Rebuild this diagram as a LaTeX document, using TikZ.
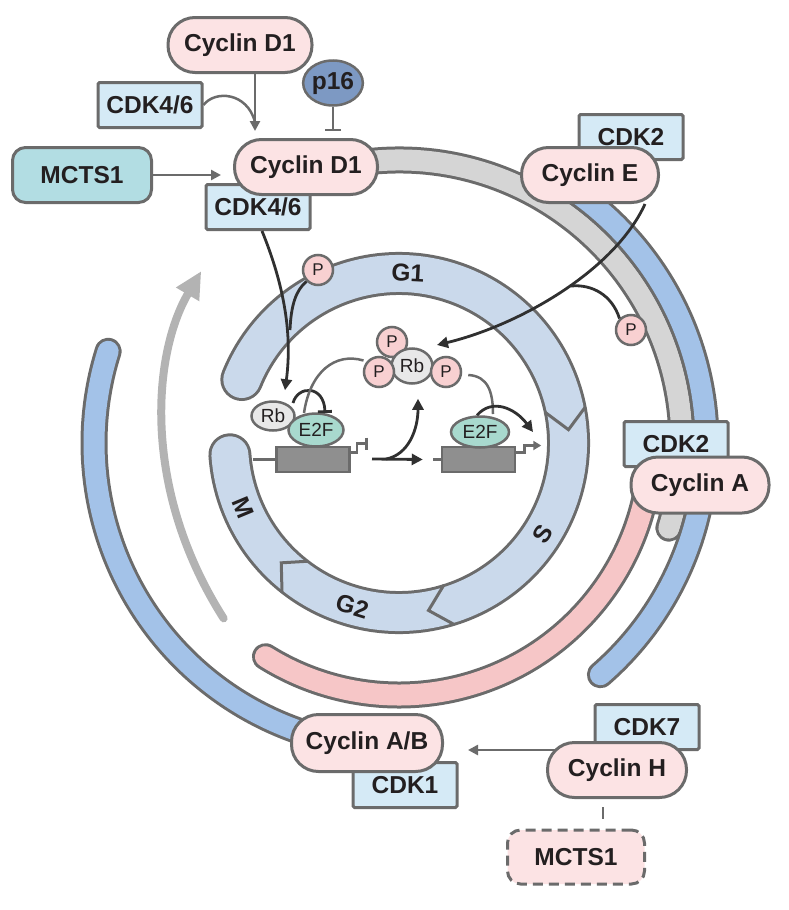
\documentclass[tikz,border=0pt]{standalone}
\usepackage{fontspec}
\setmainfont{Liberation Sans}
\usetikzlibrary{arrows.meta,shapes.geometric,calc}

\definecolor{edgegray}{HTML}{6B6B6B}
\definecolor{darkline}{HTML}{303030}
\definecolor{inktext}{HTML}{231F20}
\definecolor{cycpink}{HTML}{FCE3E4}
\definecolor{cdkblue}{HTML}{D5EAF6}
\definecolor{mctsteal}{HTML}{B2DDE3}
\definecolor{pblue}{HTML}{7D99C3}
\definecolor{ringblue}{HTML}{CAD9EB}
\definecolor{bandblue}{HTML}{A3C2E8}
\definecolor{bandgray}{HTML}{D5D5D5}
\definecolor{bandpink}{HTML}{F6C6C7}
\definecolor{phospho}{HTML}{F8D0D1}
\definecolor{rbgray}{HTML}{E8E8E8}
\definecolor{efteal}{HTML}{A8D9CE}
\definecolor{genegray}{HTML}{8F8F8F}
\definecolor{cyclegray}{HTML}{B3B3B3}

\tikzset{
  bigfont/.style={font=\fontsize{24.5}{28}\selectfont\bfseries, text=inktext},
  cyclin/.style={bigfont, draw=edgegray, fill=cycpink, line width=3pt,
    rounded corners=27pt, minimum width=143pt, minimum height=55pt},
  cdk/.style={bigfont, draw=edgegray, fill=cdkblue, line width=3pt,
    rounded corners=1.5pt, minimum width=104pt, minimum height=45pt},
  mctsbox/.style={bigfont, draw=edgegray, fill=mctsteal, line width=3pt,
    rounded corners=13pt, minimum width=139pt, minimum height=55pt},
  phos/.style={circle, draw=edgegray, fill=phospho, line width=2.5pt,
    minimum size=30pt, inner sep=0pt, font=\fontsize{17}{19}\selectfont, text=inktext},
  protein/.style={ellipse, draw=edgegray, line width=2.5pt, inner sep=0pt,
    font=\fontsize{19}{21}\selectfont, text=inktext},
  gene/.style={draw=edgegray, fill=genegray, line width=2.5pt,
    minimum width=73pt, minimum height=25pt, inner sep=0pt},
  phase/.style={bigfont, inner sep=1pt},
  garrow/.style={edgegray, line width=2.5pt, -{Triangle[length=10pt,width=10pt]}},
  darrow/.style={darkline, line width=2.8pt, -{Triangle[length=11pt,width=11pt]}},
  dline/.style={darkline, line width=2.8pt},
  thinline/.style={edgegray, line width=2.5pt}
}

\begin{document}
\begin{tikzpicture}[x=1pt,y=1pt]
  \useasboundingbox (0,0) rectangle (788,-910);
  \coordinate (c) at (399,-443);

  % coloured bands round the cycle: radius/start/end/colour
  \foreach \rad/\sa/\ea/\col in {283/98/-17.5/bandgray, 307/58/-49/bandblue,
      305/162.5/255/bandblue, 252/-10/-122/bandpink} {
    \draw[edgegray, line width=27pt, line cap=round] (c) ++(\sa:\rad)
      arc[start angle=\sa, end angle=\ea, radius=\rad];
    \draw[\col, line width=21pt, line cap=round] (c) ++(\sa:\rad)
      arc[start angle=\sa, end angle=\ea, radius=\rad];
  }

  % grey arrow showing the direction of the cycle
  \draw[cyclegray, line width=8pt, line cap=round,
    -{Triangle[length=27pt,width=25pt]}] (c) ++(225:248)
    .. controls ($(c)+(190:262)$) and ($(c)+(160:262)$) .. ($(c)+(139:262)$);

  % inner ring with the four phases
  \draw[edgegray, line width=43pt, line cap=round] (c) ++(158:169.5)
    arc[start angle=158, end angle=-176, radius=169.5];
  \draw[ringblue, line width=37pt, line cap=round] (c) ++(158:169.5)
    arc[start angle=158, end angle=-176, radius=169.5];
  \draw[edgegray, line width=3pt, line join=miter]
    ($(c)+(12:149)$) -- ($(c)+(4.5:170)$) -- ($(c)+(11:190)$);
  \draw[edgegray, line width=3pt, line join=miter]
    ($(c)+(-72.5:149)$) -- ($(c)+(-80:170)$) -- ($(c)+(-73:190)$);
  \draw[edgegray, line width=3pt, line join=miter]
    ($(c)+(-127.5:149)$) -- ($(c)+(-134.5:168)$) -- ($(c)+(-128:190)$);
  \node[phase, rotate=-3] (g1) at ($(c)+(87:170)$) {G1};
  \node[phase, rotate=57.5] (sph) at ($(c)+(-32.5:170)$) {S};
  \node[phase, rotate=-17] (g2) at ($(c)+(-106:170)$) {G2};
  \node[phase, rotate=-67.5] (mph) at ($(c)+(-157.5:169)$) {M};

  % kinases first, the cyclins sit on top of them
  \node[cdk] (cdk46top) at (150,-105) {CDK4/6};
  \node[cdk] (cdk46) at (258,-207) {CDK4/6};
  \node[cdk] (cdk2e) at (631,-137) {CDK2};
  \node[cdk] (cdk2a) at (676,-444) {CDK2};
  \node[cdk] (cdk1) at (405,-785) {CDK1};
  \node[cdk] (cdk7) at (647,-727) {CDK7};

  \node[cyclin, minimum width=144pt] (cd1top) at (240,-45) {Cyclin D1};
  \node[cyclin] (cd1) at (306,-167) {Cyclin D1};
  \node[cyclin, minimum width=137pt] (cyce) at (590,-175) {Cyclin E};
  \node[cyclin, minimum width=138pt, minimum height=56pt] (cyca) at (700,-485) {Cyclin A};
  \node[cyclin, minimum width=151pt, minimum height=57pt] (cycab) at (367,-743) {Cyclin A/B};
  \node[cyclin, minimum width=139pt] (cych) at (617,-770) {Cyclin H};

  \node[mctsbox] (mcts) at (82,-175) {MCTS1};
  \node[mctsbox, fill=cycpink, dash pattern=on 10pt off 6pt,
    minimum width=137pt, minimum height=54pt] (mctsb) at (576,-857) {MCTS1};
  \node[protein, bigfont, fill=pblue, minimum width=57pt, minimum height=45pt] (p16) at (333,-83) {p16};

  % Rb / E2F on the genes
  \node[gene] (gene1) at (313,-459.5) {};
  \node[gene] (gene2) at (478.5,-459.5) {};
  \node[protein, fill=rbgray, minimum width=43pt, minimum height=29pt] (rb1) at (273,-416) {Rb};
  \node[protein, fill=efteal, minimum width=55pt, minimum height=33pt] (e2f1) at (316,-430) {E2F};
  \node[protein, fill=efteal, minimum width=58pt, minimum height=31pt] (e2f2) at (480,-432) {E2F};

  % phosphorylated Rb
  \node[phos] (ptop) at (392,-342) {P};
  \node[protein, fill=rbgray, minimum width=41pt, minimum height=35pt] (rb2) at (412,-366) {Rb};
  \node[phos] (pleft) at (379,-372) {P};
  \node[phos] (pright) at (446,-372) {P};
  \node[phos] (pa) at (318,-270) {P};
  \node[phos] (pb) at (631,-330) {P};

  % promoters and DNA
  \coordinate (mlink) at (253,-459.5);
  \coordinate (rlink) at (433,-459.5);
  \coordinate (split) at (372,-459);
  \draw[thinline] (mlink) -- (gene1.west);
  \draw[thinline] (rlink) -- (gene2.west);
  \draw[thinline, -{Bar[width=12pt]}] ([yshift=7pt]gene1.east) -- ++(6,0) -- ++(0,9) -- ++(11,0);
  \draw[thinline, -{Triangle[length=8pt,width=9pt]}] ([yshift=7pt]gene2.east) -- ++(8,0) -- ++(0,7) -- ++(17,0);

  % regulation of Cyclin D1
  \draw[garrow] ([xshift=15pt]cd1top.south) -- ([xshift=-51pt,yshift=7pt]cd1.north);
  \draw[thinline] (cdk46top.east) .. controls (215,-90) and (247,-92) .. (255,-122);
  \draw[thinline, -{Bar[width=16pt]}] (p16.south) -- ($(cd1.north -| p16.south)+(0,7)$);
  \draw[garrow] (mcts.east) -- ($(mcts.east -| cd1.west)+(-12,0)$);

  % phosphorylation of Rb
  \draw[darrow] ([xshift=4pt]cdk46.south) .. controls (282,-280) and (293,-330) .. ($(rb1.north)+(12,10)$);
  \draw[dline] (pa.south west) .. controls (296,-290) and (291,-305) .. (290,-330);
  \draw[darrow] ([xshift=55pt]cyce.south) .. controls (615,-270) and (520,-325) .. (437,-345);
  \draw[dline] (pb.north west) .. controls (612,-295) and (592,-284) .. (571,-286);
  \draw[dline, -{Bar[width=14pt]}] ([xshift=20pt,yshift=13pt]rb1.center) .. controls (298,-385) and (324,-385) .. (325,-413);
  \draw[thinline] (304,-413) .. controls (310,-372) and (335,-352) .. ($(pleft.north west)+(-4,0)$);
  \draw[thinline] ($(pright.east)+(6,-3)$) .. controls (488,-376) and (493,-392) .. (493,-414);
  \draw[darrow] (e2f2.north) ++(-3,0) .. controls (492,-398) and (515,-408) .. (533,-432);
  \draw[darrow] (split) -- ([xshift=-18pt]gene2.west);
  \draw[darrow] ($(split)+(14,0)$) .. controls (408,-455) and (418,-430) .. ([xshift=6pt,yshift=-14pt]rb2.south);

  % Cyclin H / CDK7 activates CDK1
  \draw[garrow] ([xshift=9pt,yshift=20pt]cych.west) -- ($(cycab.east)+(24,-7)$);
  \draw[thinline] ($(cych.south)+(-14,-8)$) -- ($(mctsb.north)+(27,10)$);
\end{tikzpicture}
\end{document}
